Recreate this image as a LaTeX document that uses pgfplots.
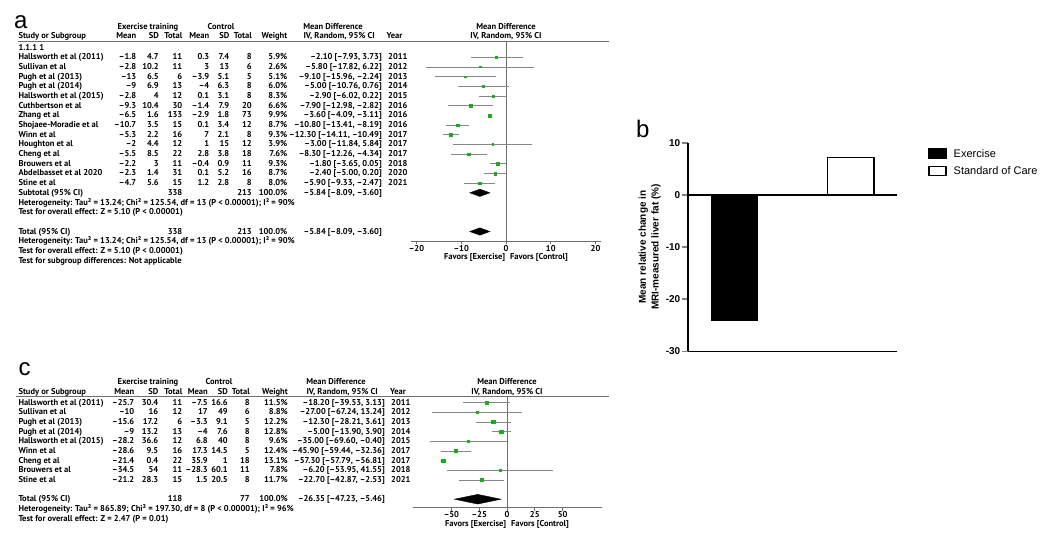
\documentclass[border=0pt]{standalone}
\usepackage{fontspec}
\usepackage{pgfplots}
\usepackage{pgfplotstable}
\pgfplotsset{compat=1.18}
\setmainfont{PT Sans}
\newfontfamily\lib{Liberation Sans}
\definecolor{fgreen}{RGB}{30,170,30}
\definecolor{cigray}{RGB}{135,135,135}
\definecolor{axgray}{RGB}{110,110,110}
\newcommand\tf{\fontsize{8.5}{10}\selectfont\bfseries}

\newcommand\trow[9]{%
 \node[anchor=mid west] at (\cN,{\yz+\dy*#1}) {#2};
 \node[anchor=mid east] at (\cMa,{\yz+\dy*#1}) {#3};
 \node[anchor=mid east] at (\cSa,{\yz+\dy*#1}) {#4};
 \node[anchor=mid east] at (\cTa,{\yz+\dy*#1}) {#5};
 \node[anchor=mid east] at (\cMb,{\yz+\dy*#1}) {#6};
 \node[anchor=mid east] at (\cSb,{\yz+\dy*#1}) {#7};
 \node[anchor=mid east] at (\cTb,{\yz+\dy*#1}) {#8};
 \node[anchor=mid east] at (\cW,{\yz+\dy*#1}) {#9};}
\newcommand\tci[3]{%
 \node[anchor=mid east] at (\cCI,{\yz+\dy*#1}) {#2};
 \node[anchor=mid west] at (\cY,{\yz+\dy*#1}) {#3};}
\newcommand\tline[2]{\node[anchor=mid west] at (\cN,{\yz+\dy*#1}) {#2};}

\pgfplotstableread{
r md lo hi w
0 -2.10 -7.93 3.73 5.9
-1 -5.80 -17.82 6.22 2.6
-2 -9.10 -15.96 -2.24 5.1
-3 -5.00 -10.76 0.76 6.0
-4 -2.90 -6.02 0.22 8.3
-5 -7.90 -12.98 -2.82 6.6
-6 -3.60 -4.09 -3.11 9.9
-7 -10.80 -13.41 -8.19 8.7
-8 -12.30 -14.11 -10.49 9.3
-9 -3.00 -11.84 5.84 3.9
-10 -8.30 -12.26 -4.34 7.6
-11 -1.80 -3.65 0.05 9.3
-12 -2.40 -5.00 0.20 8.7
-13 -5.90 -9.33 -2.47 8.0
}\tabA

\pgfplotstableread{
r md lo hi w
0 -18.20 -39.53 3.13 11.5
-1 -27.00 -67.24 13.24 8.8
-2 -12.30 -28.21 3.61 12.2
-3 -5.00 -13.90 3.90 12.8
-4 -35.00 -69.60 -0.40 9.6
-5 -45.90 -59.44 -32.36 12.4
-6 -57.30 -57.79 -56.81 13.1
-7 -6.20 -53.95 41.55 7.8
-8 -22.70 -42.87 -2.53 11.7
}\tabC

\pgfplotsset{
 forest/.style={scale only axis, anchor=south west, clip=false,
  axis x line=bottom, axis y line=none,
  axis line style={-}, x axis line style={-, draw=axgray, line width=0.8pt},
  tick align=outside, major tick length=3pt,
  xtick style={draw=axgray, line width=0.8pt},
  ticklabel style={font=\tf}, xticklabel style={inner sep=1pt},
  xlabel={Favors [Exercise]\hspace{5pt}Favors [Control]},
  xlabel style={font=\tf, at={(axis description cs:0.5,0)}, anchor=north, yshift=-12.5pt, inner sep=0pt}},
 ci/.style={draw=none, mark=none, error bars/.cd, x dir=both, x explicit,
  error bar style={draw=cigray, line width=0.8pt}, error mark=none},
}

\begin{document}
\begin{tikzpicture}
\path (0pt,0pt) rectangle (1050pt,-538pt);

% ---------------- text of panels a and c
\begin{scope}[x=1pt,y=-1pt, every node/.style={inner sep=0pt, font=\tf}]
\node[anchor=base west, inner sep=0pt, font=\lib\fontsize{24}{28}\selectfont] at (14,28) {a};
\node[anchor=base west, inner sep=0pt, font=\lib\fontsize{24}{28}\selectfont] at (18.5,375) {c};
\node[anchor=base west, inner sep=0pt, font=\lib\fontsize{24}{28}\selectfont] at (636,137) {b};

% panel a
\def\yz{57.3}\def\dy{9.68}
\def\cN{18.3}\def\cMa{136.5}\def\cSa{159}\def\cTa{182.5}\def\cMb{209.5}\def\cSb{229.5}\def\cTb{252}\def\cW{287.5}\def\cCI{382}\def\cY{388}
\node[anchor=mid] at (148,26.7) {Exercise training};
\node[anchor=mid] at (221,26.7) {Control};
\node[anchor=mid] at (333,26.7) {Mean Difference};
\node[anchor=mid] at (506,26.7) {Mean Difference};
\node[anchor=mid west] at (\cN,36.3) {Study or Subgroup};
\node[anchor=mid east] at (\cMa,36.3) {Mean};
\node[anchor=mid east] at (\cSa,36.3) {SD};
\node[anchor=mid east] at (\cTa,36.3) {Total};
\node[anchor=mid east] at (\cMb,36.3) {Mean};
\node[anchor=mid east] at (\cSb,36.3) {SD};
\node[anchor=mid east] at (\cTb,36.3) {Total};
\node[anchor=mid east] at (\cW,36.3) {Weight};
\node[anchor=mid east] at (375,36.3) {IV, Random, 95\% CI};
\node[anchor=mid west] at (386.5,36.3) {Year};
\node[anchor=mid] at (506,36.3) {IV, Random, 95\% CI};
\draw[draw=axgray, line width=0.8pt] (18,41.7) -- (609,41.7);
\tline{-1}{1.1.1 1}
\trow{0}{Hallsworth et al (2011)}{–1.8}{4.7}{11}{0.3}{7.4}{8}{5.9\%}\tci{0}{–2.10 [–7.93, 3.73]}{2011}
\trow{1}{Sullivan et al}{–2.8}{10.2}{11}{3}{13}{6}{2.6\%}\tci{1}{–5.80 [–17.82, 6.22]}{2012}
\trow{2}{Pugh et al (2013)}{–13}{6.5}{6}{–3.9}{5.1}{5}{5.1\%}\tci{2}{–9.10 [–15.96, –2.24]}{2013}
\trow{3}{Pugh et al (2014)}{–9}{6.9}{13}{–4}{6.3}{8}{6.0\%}\tci{3}{–5.00 [–10.76, 0.76]}{2014}
\trow{4}{Hallsworth et al (2015)}{–2.8}{4}{12}{0.1}{3.1}{8}{8.3\%}\tci{4}{–2.90 [–6.02, 0.22]}{2015}
\trow{5}{Cuthbertson et al}{–9.3}{10.4}{30}{–1.4}{7.9}{20}{6.6\%}\tci{5}{–7.90 [–12.98, –2.82]}{2016}
\trow{6}{Zhang et al}{–6.5}{1.6}{133}{–2.9}{1.8}{73}{9.9\%}\tci{6}{–3.60 [–4.09, –3.11]}{2016}
\trow{7}{Shojaee-Moradie et al}{–10.7}{3.5}{15}{0.1}{3.4}{12}{8.7\%}\tci{7}{–10.80 [–13.41, –8.19]}{2016}
\trow{8}{Winn et al}{–5.3}{2.2}{16}{7}{2.1}{8}{9.3\%}\tci{8}{–12.30 [–14.11, –10.49]}{2017}
\trow{9}{Houghton et al}{–2}{4.4}{12}{1}{15}{12}{3.9\%}\tci{9}{–3.00 [–11.84, 5.84]}{2017}
\trow{10}{Cheng et al}{–5.5}{8.5}{22}{2.8}{3.8}{18}{7.6\%}\tci{10}{–8.30 [–12.26, –4.34]}{2017}
\trow{11}{Brouwers et al}{–2.2}{3}{11}{–0.4}{0.9}{11}{9.3\%}\tci{11}{–1.80 [–3.65, 0.05]}{2018}
\trow{12}{Abdelbasset et al 2020}{–2.3}{1.4}{31}{0.1}{5.2}{16}{8.7\%}\tci{12}{–2.40 [–5.00, 0.20]}{2020}
\trow{13}{Stine et al}{–4.7}{5.6}{15}{1.2}{2.8}{8}{8.0\%}\tci{13}{–5.90 [–9.33, –2.47]}{2021}
\trow{14}{Subtotal (95\% CI)}{}{}{338}{}{}{213}{100.0\%}\tci{14}{–5.84 [–8.09, –3.60]}{}
\tline{15}{Heterogeneity: Tau² = 13.24; Chi² = 125.54, df = 13 (P < 0.00001); I² = 90\%}
\tline{16}{Test for overall effect: Z = 5.10 (P < 0.00001)}
\trow{18}{Total (95\% CI)}{}{}{338}{}{}{213}{100.0\%}\tci{18}{–5.84 [–8.09, –3.60]}{}
\tline{19}{Heterogeneity: Tau² = 13.24; Chi² = 125.54, df = 13 (P < 0.00001); I² = 90\%}
\tline{20}{Test for overall effect: Z = 5.10 (P < 0.00001)}
\tline{21}{Test for subgroup differences: Not applicable}

% panel c
\def\yz{402.7}\def\dy{9.65}
\def\cN{18.3}\def\cMa{134.5}\def\cSa{158.5}\def\cTa{182.5}\def\cMb{208}\def\cSb{228}\def\cTb{250}\def\cW{288}\def\cCI{385}\def\cY{391}
\node[anchor=mid] at (148,381.7) {Exercise training};
\node[anchor=mid] at (219,381.7) {Control};
\node[anchor=mid] at (336,381.7) {Mean Difference};
\node[anchor=mid] at (507,381.7) {Mean Difference};
\node[anchor=mid west] at (\cN,391.7) {Study or Subgroup};
\node[anchor=mid east] at (\cMa,391.7) {Mean};
\node[anchor=mid east] at (\cSa,391.7) {SD};
\node[anchor=mid east] at (\cTa,391.7) {Total};
\node[anchor=mid east] at (\cMb,391.7) {Mean};
\node[anchor=mid east] at (\cSb,391.7) {SD};
\node[anchor=mid east] at (\cTb,391.7) {Total};
\node[anchor=mid east] at (\cW,391.7) {Weight};
\node[anchor=mid east] at (378,391.7) {IV, Random, 95\% CI};
\node[anchor=mid west] at (390,391.7) {Year};
\node[anchor=mid] at (507,391.7) {IV, Random, 95\% CI};
\draw[draw=axgray, line width=0.8pt] (16,396.7) -- (609,396.7);
\trow{0}{Hallsworth et al (2011)}{–25.7}{30.4}{11}{–7.5}{16.6}{8}{11.5\%}\tci{0}{–18.20 [–39.53, 3.13]}{2011}
\trow{1}{Sullivan et al}{–10}{16}{12}{17}{49}{6}{8.8\%}\tci{1}{–27.00 [–67.24, 13.24]}{2012}
\trow{2}{Pugh et al (2013)}{–15.6}{17.2}{6}{–3.3}{9.1}{5}{12.2\%}\tci{2}{–12.30 [–28.21, 3.61]}{2013}
\trow{3}{Pugh et al (2014)}{–9}{13.2}{13}{–4}{7.6}{8}{12.8\%}\tci{3}{–5.00 [–13.90, 3.90]}{2014}
\trow{4}{Hallsworth et al (2015)}{–28.2}{36.6}{12}{6.8}{40}{8}{9.6\%}\tci{4}{–35.00 [–69.60, –0.40]}{2015}
\trow{5}{Winn et al}{–28.6}{9.5}{16}{17.3}{14.5}{5}{12.4\%}\tci{5}{–45.90 [–59.44, –32.36]}{2017}
\trow{6}{Cheng et al}{–21.4}{0.4}{22}{35.9}{1}{18}{13.1\%}\tci{6}{–57.30 [–57.79, –56.81]}{2017}
\trow{7}{Brouwers et al}{–34.5}{54}{11}{–28.3}{60.1}{11}{7.8\%}\tci{7}{–6.20 [–53.95, 41.55]}{2018}
\trow{8}{Stine et al}{–21.2}{28.3}{15}{1.5}{20.5}{8}{11.7\%}\tci{8}{–22.70 [–42.87, –2.53]}{2021}
\trow{10}{Total (95\% CI)}{}{}{118}{}{}{77}{100.0\%}\tci{10}{–26.35 [–47.23, –5.46]}{}
\tline{11}{Heterogeneity: Tau² = 865.89; Chi² = 197.30, df = 8 (P < 0.00001); I² = 96\%}
\tline{12}{Test for overall effect: Z = 2.47 (P = 0.01)}
\end{scope}

% ---------------- forest plot a
\begin{axis}[forest, at={(411.1pt,-241pt)}, width=189.8pt, height=199.3pt,
  xmin=-21.2, xmax=21.2, ymin=-18.98, ymax=1.61,
  xtick={-20,-10,0,10,20}, xticklabels={–20,–10,0,10,20}]
\addplot[draw=axgray, line width=0.8pt] coordinates {(0,1.61) (0,-18.98)};
\addplot[ci] table[x=md, y=r, x error plus expr=\thisrow{hi}-\thisrow{md}, x error minus expr=\thisrow{md}-\thisrow{lo}] {\tabA};
\addplot[scatter, only marks, mark=square*,
  scatter/use mapped color={draw=fgreen, fill=fgreen},
  visualization depends on={0.4+0.1*\thisrow{w} \as \msz},
  scatter/@pre marker code/.append style={/tikz/mark size=\msz}] table[x=md, y=r] {\tabA};
\addplot[fill=black, draw=black] coordinates {(-8.09,-14) (-5.84,-13.62) (-3.60,-14) (-5.84,-14.38)} -- cycle;
\addplot[fill=black, draw=black] coordinates {(-8.09,-18) (-5.84,-17.62) (-3.60,-18) (-5.84,-18.38)} -- cycle;
\end{axis}

% ---------------- forest plot c
\begin{axis}[forest, at={(412.5pt,-507.7pt)}, width=189pt, height=111pt,
  xmin=-85, xmax=85, ymin=-10.88, ymax=0.62,
  xtick={-50,-25,0,25,50}, xticklabels={–50,–25,0,25,50}]
\addplot[draw=axgray, line width=0.8pt] coordinates {(0,0.62) (0,-10.88)};
\addplot[ci] table[x=md, y=r, x error plus expr=\thisrow{hi}-\thisrow{md}, x error minus expr=\thisrow{md}-\thisrow{lo}] {\tabC};
\addplot[scatter, only marks, mark=square*,
  scatter/use mapped color={draw=fgreen, fill=fgreen},
  visualization depends on={0.2*\thisrow{w}-0.8 \as \msz},
  scatter/@pre marker code/.append style={/tikz/mark size=\msz}] table[x=md, y=r] {\tabC};
\addplot[fill=black, draw=black] coordinates {(-47.23,-10) (-26.35,-9.5) (-5.46,-10) (-26.35,-10.5)} -- cycle;
\end{axis}

% ---------------- bar chart b
\begin{axis}[at={(688pt,-351.4pt)}, anchor=south west, scale only axis,
  width=209pt, height=208.7pt, clip=false,
  xmin=-0.4, xmax=1.4, ymin=-30, ymax=10,
  axis lines=left, axis line style={-, line width=1.6pt},
  xtick=\empty, ytick={-30,-20,-10,0,10}, yticklabels={-30,-20,-10,0,10},
  tick align=outside, major tick length=6pt, ytick style={line width=1.6pt},
  yticklabel style={font=\lib\bfseries\fontsize{10}{12}\selectfont, inner sep=1.5pt},
  ylabel={Mean relative change in\\MRI-measured liver fat (\%)},
  ylabel style={font=\lib\bfseries\fontsize{10}{12.8}\selectfont, align=center},
  legend style={draw=none, fill=none, at={(1.148,0.976)}, anchor=north west,
    inner sep=0pt, row sep=7pt, font=\lib\fontsize{11}{13}\selectfont,
    nodes={inner sep=0pt, text depth=0pt}},
  legend cell align=left,
  leg/.style={legend image code/.code={\draw[##1, line width=1.6pt] (0pt,-4.5pt) rectangle (17pt,4.5pt);}}]
\addplot[ybar, bar shift=0pt, bar width=0.4, fill=black, draw=black, leg] coordinates {(0,-24.1)};
\addlegendentry{\hspace{7pt}Exercise}
\addplot[ybar, bar shift=0pt, bar width=0.4, fill=white, draw=black, line width=1.6pt, leg] coordinates {(1,7.2)};
\addlegendentry{\hspace{7pt}Standard of Care}
\addplot[forget plot, sharp plot, black, line width=1.6pt] coordinates {(-0.4,0) (1.4,0)};
\end{axis}
\end{tikzpicture}
\end{document}
